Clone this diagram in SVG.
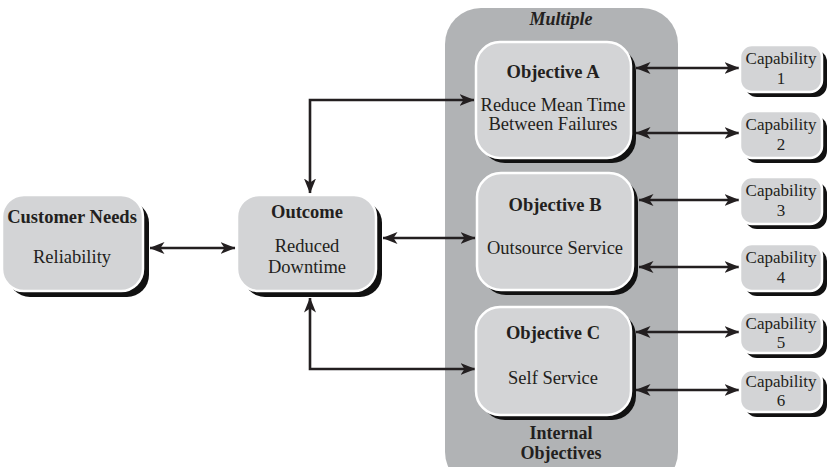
<svg xmlns="http://www.w3.org/2000/svg" width="830" height="467" viewBox="0 0 830 467">
<defs>
<style>
text{font-family:"Liberation Serif","Times New Roman",serif;fill:#231f20;text-anchor:middle}
.t{font-weight:bold;font-size:18.5px}
.b{font-size:18.5px}
.c{font-size:17px}
.sh{fill:#111}
.bx{fill:#d3d4d6;stroke:#fff;stroke-width:2.5}
.ln{fill:none;stroke:#231f20;stroke-width:2.6}
</style>
<marker id="ah" viewBox="0 0 15 12" refX="14.5" refY="6" markerWidth="15" markerHeight="12" markerUnits="userSpaceOnUse" orient="auto-start-reverse">
<path d="M0,0 L15,6 L0,12 L4,6 Z" fill="#231f20"/>
</marker>
</defs>
<g id="container">
<rect x="445" y="8" width="233" height="480" rx="36" fill="#b1b3b5"/>
<text x="561" y="25" style="font-weight:bold;font-style:italic;font-size:18px">Multiple</text>
<text x="561" y="439" class="t" style="font-size:18px">Internal</text>
<text x="561" y="459" class="t" style="font-size:18px">Objectives</text>
</g>
<g id="connectors">
<line class="ln" x1="150" y1="248" x2="235" y2="248" marker-start="url(#ah)" marker-end="url(#ah)"/>
<line class="ln" x1="383" y1="238" x2="475" y2="238" marker-start="url(#ah)" marker-end="url(#ah)"/>
<polyline class="ln" points="310,193 310,100 474,100" marker-start="url(#ah)" marker-end="url(#ah)"/>
<polyline class="ln" points="310,298 310,369 475,369" marker-start="url(#ah)" marker-end="url(#ah)"/>
<line class="ln" x1="636" y1="68" x2="739" y2="68" marker-start="url(#ah)" marker-end="url(#ah)"/>
<line class="ln" x1="636" y1="133" x2="739" y2="133" marker-start="url(#ah)" marker-end="url(#ah)"/>
<line class="ln" x1="639" y1="200" x2="739" y2="200" marker-start="url(#ah)" marker-end="url(#ah)"/>
<line class="ln" x1="639" y1="267" x2="739" y2="267" marker-start="url(#ah)" marker-end="url(#ah)"/>
<line class="ln" x1="636" y1="332" x2="739" y2="332" marker-start="url(#ah)" marker-end="url(#ah)"/>
<line class="ln" x1="636" y1="390" x2="739" y2="390" marker-start="url(#ah)" marker-end="url(#ah)"/>
</g>
<g id="customer-needs">
<rect class="sh" x="8" y="201" width="141" height="96" rx="22"/>
<rect class="bx" x="2" y="195" width="141" height="96" rx="22"/>
<text x="72" y="223" class="t">Customer Needs</text>
<text x="72" y="263" class="b">Reliability</text>
</g>
<g id="outcome">
<rect class="sh" x="243" y="201" width="139" height="96" rx="22"/>
<rect class="bx" x="237" y="195" width="139" height="96" rx="22"/>
<text x="307" y="218" class="t">Outcome</text>
<text x="307" y="252" class="b">Reduced</text>
<text x="307" y="273" class="b">Downtime</text>
</g>
<g id="objective-a">
<rect class="sh" x="481" y="47" width="155" height="116" rx="24"/>
<rect class="bx" x="476" y="42" width="155" height="116" rx="24"/>
<text x="553" y="78" class="t">Objective A</text>
<text x="553" y="111" class="b">Reduce Mean Time</text>
<text x="553" y="130" class="b">Between Failures</text>
</g>
<g id="objective-b">
<rect class="sh" x="482" y="178" width="156" height="117" rx="24"/>
<rect class="bx" x="477" y="173" width="156" height="117" rx="24"/>
<text x="555" y="211" class="t">Objective B</text>
<text x="555" y="254" class="b">Outsource Service</text>
</g>
<g id="objective-c">
<rect class="sh" x="481" y="312" width="155" height="108" rx="24"/>
<rect class="bx" x="476" y="307" width="155" height="108" rx="24"/>
<text x="553" y="339" class="t">Objective C</text>
<text x="553" y="384" class="b">Self Service</text>
</g>
<g id="capability-1">
<rect class="sh" x="745" y="50" width="82" height="47" rx="12"/>
<rect class="bx" x="740" y="45" width="82" height="47" rx="12"/>
<text x="781" y="64" class="c">Capability</text>
<text x="781" y="84" class="c">1</text>
</g>
<g id="capability-2">
<rect class="sh" x="745" y="116" width="82" height="47" rx="12"/>
<rect class="bx" x="740" y="111" width="82" height="47" rx="12"/>
<text x="781" y="130" class="c">Capability</text>
<text x="781" y="150" class="c">2</text>
</g>
<g id="capability-3">
<rect class="sh" x="745" y="182" width="82" height="47" rx="12"/>
<rect class="bx" x="740" y="177" width="82" height="47" rx="12"/>
<text x="781" y="196" class="c">Capability</text>
<text x="781" y="216" class="c">3</text>
</g>
<g id="capability-4">
<rect class="sh" x="745" y="249" width="82" height="47" rx="12"/>
<rect class="bx" x="740" y="244" width="82" height="47" rx="12"/>
<text x="781" y="263" class="c">Capability</text>
<text x="781" y="283" class="c">4</text>
</g>
<g id="capability-5">
<rect class="sh" x="745" y="317" width="82" height="41" rx="12"/>
<rect class="bx" x="740" y="312" width="82" height="41" rx="12"/>
<text x="781" y="329" class="c">Capability</text>
<text x="781" y="348" class="c">5</text>
</g>
<g id="capability-6">
<rect class="sh" x="745" y="375" width="82" height="42" rx="12"/>
<rect class="bx" x="740" y="370" width="82" height="42" rx="12"/>
<text x="781" y="387" class="c">Capability</text>
<text x="781" y="406" class="c">6</text>
</g>
</svg>
